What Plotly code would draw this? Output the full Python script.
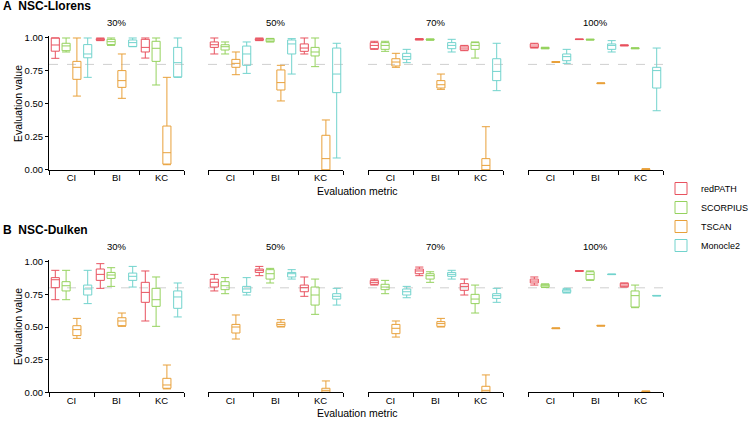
import plotly.graph_objects as go
from plotly.subplots import make_subplots

# ---------------- data ----------------
metrics = ["CI", "BI", "KC"]
proportions = ["30%", "50%", "70%", "100%"]
methods = ["redPATH", "SCORPIUS", "TSCAN", "Monocle2"]
colors = ["#E8525F", "#95D25E", "#E8A03A", "#72D3CD"]

# each tuple: (lower whisker, q1, median, q3, upper whisker)
# order: 30% CI, BI, KC, 50% CI, BI, KC, 70% CI, BI, KC, 100% CI, BI, KC
llorens_redpath = [
    (0.846, 0.900, 0.947, 1.000, 1.000), (0.980, 0.983, 0.990, 0.995, 1.000), (0.848, 0.894, 0.929, 0.990, 1.000),
    (0.879, 0.929, 0.949, 0.970, 1.000), (0.980, 0.983, 0.990, 0.995, 1.000), (0.879, 0.899, 0.924, 0.955, 1.000),
    (0.914, 0.919, 0.944, 0.965, 0.975), (0.985, 0.987, 0.990, 0.993, 0.995), (0.904, 0.909, 0.924, 0.939, 0.944),
    (0.924, 0.928, 0.939, 0.955, 0.960), (0.988, 0.989, 0.990, 0.991, 0.992), (0.940, 0.942, 0.944, 0.946, 0.948),
]
llorens_scorpius = [
    (0.894, 0.904, 0.940, 0.960, 1.000), (0.944, 0.950, 0.972, 0.990, 1.000), (0.644, 0.823, 0.922, 0.975, 1.000),
    (0.879, 0.909, 0.934, 0.949, 0.970), (0.970, 0.972, 0.985, 0.995, 0.997), (0.783, 0.864, 0.894, 0.929, 1.000),
    (0.899, 0.914, 0.944, 0.965, 0.975), (0.983, 0.985, 0.988, 0.991, 0.993), (0.848, 0.914, 0.944, 0.965, 0.970),
    (0.918, 0.920, 0.924, 0.927, 0.930), (0.984, 0.986, 0.988, 0.990, 0.991), (0.918, 0.920, 0.922, 0.924, 0.926),
]
llorens_tscan = [
    (0.560, 0.687, 0.778, 0.823, 1.000), (0.543, 0.626, 0.677, 0.753, 0.879), (0.040, 0.045, 0.131, 0.333, 0.702),
    (0.722, 0.778, 0.808, 0.838, 0.894), (0.523, 0.606, 0.662, 0.758, 0.793), (0.000, 0.000, 0.086, 0.263, 0.379),
    (0.778, 0.788, 0.818, 0.843, 0.884), (0.611, 0.621, 0.646, 0.677, 0.727), (0.000, 0.000, 0.035, 0.086, 0.328),
    (0.815, 0.816, 0.818, 0.820, 0.821), (0.654, 0.655, 0.657, 0.659, 0.660), (0.000, 0.002, 0.005, 0.008, 0.010),
]
llorens_monocle2 = [
    (0.702, 0.850, 0.879, 0.950, 1.000), (0.934, 0.936, 0.965, 0.985, 1.000), (0.702, 0.705, 0.813, 0.929, 1.000),
    (0.732, 0.793, 0.879, 0.939, 0.970), (0.727, 0.879, 0.955, 0.985, 0.995), (0.091, 0.586, 0.727, 0.924, 0.960),
    (0.813, 0.838, 0.859, 0.884, 0.914), (0.894, 0.919, 0.944, 0.965, 0.990), (0.601, 0.677, 0.747, 0.843, 0.960),
    (0.808, 0.828, 0.859, 0.879, 0.914), (0.894, 0.914, 0.944, 0.955, 0.980), (0.449, 0.621, 0.753, 0.778, 0.924),
]
dulken_redpath = [
    (0.709, 0.801, 0.862, 0.878, 0.934), (0.796, 0.857, 0.903, 0.944, 0.985), (0.546, 0.689, 0.765, 0.842, 0.929),
    (0.776, 0.806, 0.842, 0.867, 0.903), (0.893, 0.918, 0.934, 0.944, 0.964), (0.735, 0.770, 0.801, 0.821, 0.883),
    (0.821, 0.827, 0.842, 0.857, 0.867), (0.893, 0.908, 0.929, 0.944, 0.959), (0.745, 0.781, 0.811, 0.832, 0.867),
    (0.821, 0.837, 0.852, 0.867, 0.883), (0.926, 0.927, 0.929, 0.931, 0.932), (0.806, 0.808, 0.821, 0.835, 0.837),
]
dulken_scorpius = [
    (0.709, 0.776, 0.816, 0.847, 0.934), (0.811, 0.872, 0.898, 0.918, 0.954), (0.505, 0.658, 0.709, 0.796, 0.883),
    (0.755, 0.786, 0.816, 0.847, 0.878), (0.837, 0.867, 0.908, 0.939, 0.949), (0.597, 0.668, 0.745, 0.806, 0.867),
    (0.755, 0.786, 0.806, 0.827, 0.857), (0.842, 0.867, 0.893, 0.908, 0.923), (0.607, 0.679, 0.714, 0.750, 0.821),
    (0.802, 0.806, 0.816, 0.827, 0.830), (0.857, 0.862, 0.903, 0.923, 0.929), (0.648, 0.653, 0.740, 0.776, 0.821),
]
dulken_tscan = [
    (0.413, 0.434, 0.480, 0.510, 0.566), (0.505, 0.510, 0.546, 0.571, 0.607), (0.026, 0.031, 0.056, 0.107, 0.209),
    (0.408, 0.454, 0.500, 0.520, 0.592), (0.500, 0.505, 0.520, 0.536, 0.556), (0.000, 0.000, 0.015, 0.031, 0.087),
    (0.423, 0.449, 0.490, 0.520, 0.546), (0.500, 0.505, 0.526, 0.541, 0.566), (0.000, 0.000, 0.015, 0.046, 0.133),
    (0.487, 0.488, 0.490, 0.492, 0.493), (0.507, 0.508, 0.510, 0.512, 0.513), (0.000, 0.002, 0.005, 0.008, 0.010),
]
dulken_monocle2 = [
    (0.679, 0.745, 0.791, 0.821, 0.934), (0.806, 0.857, 0.888, 0.913, 0.964), (0.577, 0.643, 0.730, 0.776, 0.837),
    (0.745, 0.765, 0.791, 0.811, 0.878), (0.867, 0.883, 0.908, 0.918, 0.939), (0.668, 0.714, 0.735, 0.755, 0.796),
    (0.724, 0.745, 0.770, 0.791, 0.811), (0.867, 0.888, 0.903, 0.918, 0.934), (0.689, 0.719, 0.740, 0.755, 0.796),
    (0.760, 0.765, 0.776, 0.786, 0.796), (0.901, 0.902, 0.903, 0.904, 0.905), (0.738, 0.739, 0.740, 0.741, 0.742),
]
threshold = 0.8
y_ticks = [0, 0.25, 0.5, 0.75, 1.0]

datasets = [
    ("A", "NSC-Llorens", [llorens_redpath, llorens_scorpius, llorens_tscan, llorens_monocle2]),
    ("B", "NSC-Dulken", [dulken_redpath, dulken_scorpius, dulken_tscan, dulken_monocle2]),
]

# ---------------- figure ----------------
W, H = 752, 424
FONT = "Liberation Sans, Arial, sans-serif"
fig = make_subplots(rows=2, cols=4)

x_pix = [(49, 184), (208, 343), (368, 503), (528, 663)]
# (pixel of y=0, pixel of y=1)
y_pix = [(170, 38), (392.3, 261.7)]
YMAX = 1.012

for r, (letter, dname, series) in enumerate(datasets):
    for c in range(4):
        sub = slice(c * 3, c * 3 + 3)
        for m, (mname, col, vals) in enumerate(zip(methods, colors, series)):
            v = vals[sub]
            fig.add_trace(
                go.Box(
                    x=metrics,
                    lowerfence=[t[0] for t in v],
                    q1=[t[1] for t in v],
                    median=[t[2] for t in v],
                    q3=[t[3] for t in v],
                    upperfence=[t[4] for t in v],
                    name=mname,
                    legendgroup=mname,
                    offsetgroup=mname,
                    showlegend=(r == 0 and c == 0),
                    line=dict(color=col, width=1),
                    fillcolor="rgba(0,0,0,0)",
                    whiskerwidth=1,
                    boxpoints=False,
                ),
                row=r + 1, col=c + 1,
            )
        idx = r * 4 + c + 1
        xa = "xaxis" if idx == 1 else f"xaxis{idx}"
        ya = "yaxis" if idx == 1 else f"yaxis{idx}"
        x0, x1 = x_pix[c]
        p0, p1 = y_pix[r]
        unit = (p0 - p1)
        top = p0 - unit * YMAX
        fig.layout[xa].update(
            domain=[x0 / W, x1 / W], type="category",
            categoryorder="array", categoryarray=metrics,
            tickson="boundaries", ticks="outside", ticklen=4, tickwidth=1,
            tickcolor="black", showline=True, linecolor="black", linewidth=1,
            showgrid=False, zeroline=False, automargin=False,
            ticklabelstandoff=-1,
            tickfont=dict(family=FONT, size=9.5, color="black"),
        )
        fig.layout[ya].update(
            domain=[1 - p0 / H, 1 - top / H], range=[0, YMAX],
            showgrid=False, zeroline=False, automargin=False,
            showline=(c == 0), linecolor="black", linewidth=1,
            ticks="outside" if c == 0 else "", ticklen=3, tickcolor="black",
            showticklabels=(c == 0), tickvals=y_ticks, tickformat=".2f",
            tickfont=dict(family=FONT, size=9.5, color="black"),
        )
        xref = "x domain" if idx == 1 else f"x{idx} domain"
        yref = "y" if idx == 1 else f"y{idx}"
        fig.add_shape(type="line", xref=xref, yref=yref, x0=0, x1=1,
                      y0=threshold, y1=threshold,
                      line=dict(color="#CFCFCF", width=1, dash="dash"), layer="below")
        # panel title
        fig.add_annotation(text=proportions[c], xref="paper", yref="paper",
                           x=(x0 + x1) / 2 / W, y=1 - (p1 - 15) / H,
                           xanchor="center", yanchor="middle",
                           showarrow=False, font=dict(family=FONT, size=9.5, color="black"))
    # dataset title
    fig.add_annotation(text=f"<b>{letter}</b>  <b>{dname}</b>", xref="paper", yref="paper",
                       x=1 / W, y=1 - (y_pix[r][1] - 32) / H, xanchor="left", yanchor="middle",
                       showarrow=False, font=dict(family=FONT, size=12, color="black"))
    # y title
    fig.add_annotation(text="Evaluation value", xref="paper", yref="paper",
                       x=18 / W, y=1 - ((y_pix[r][0] + y_pix[r][1]) / 2) / H,
                       xanchor="center", yanchor="middle",
                       textangle=-90, showarrow=False,
                       font=dict(family=FONT, size=10.5, color="black"))
    # x title
    fig.add_annotation(text="Evaluation metric", xref="paper", yref="paper",
                       x=357 / W, y=1 - (y_pix[r][0] + 20.5) / H,
                       xanchor="center", yanchor="middle",
                       showarrow=False, font=dict(family=FONT, size=10.5, color="black"))

fig.update_layout(
    width=W, height=H,
    margin=dict(l=0, r=0, t=0, b=0, autoexpand=False),
    boxmode="group", boxgap=0.04, boxgroupgap=0.25,
    plot_bgcolor="white", paper_bgcolor="white",
    legend=dict(x=661 / W, y=1 - 174 / H, xanchor="left", yanchor="top",
                font=dict(family=FONT, size=9, color="black"),
                bgcolor="rgba(0,0,0,0)", tracegroupgap=0, itemwidth=30),
    showlegend=True,
)

fig.write_html("out.html", config={"displayModeBar": False},
               post_script="document.body.style.margin='0';")
